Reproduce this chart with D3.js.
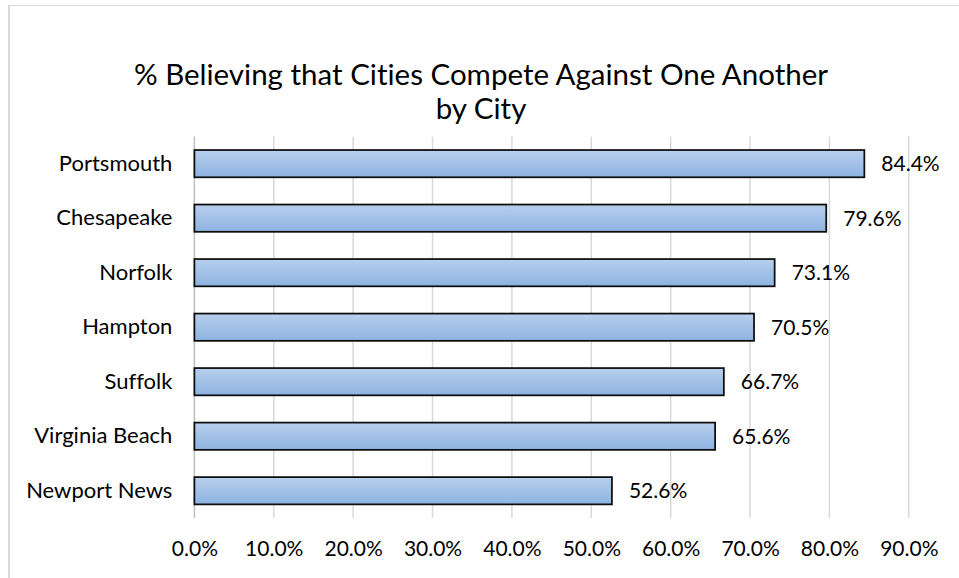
<!DOCTYPE html>
<html>
<head>
<meta charset="utf-8">
<script src="https://cdn.jsdelivr.net/npm/d3@7"></script>
<style>
  html, body { margin: 0; padding: 0; background: #fff; }
  svg { display: block; }
  text { font-family: Lato, "Open Sans", sans-serif; fill: #000; font-variant-ligatures: none; font-feature-settings: "liga" 0, "clig" 0; }
</style>
</head>
<body>
<svg id="chart" width="959" height="578"></svg>
<script>
const titleLines = ["% Believing that Cities Compete Against One Another", "by City"];
const cities = ["Portsmouth", "Chesapeake", "Norfolk", "Hampton", "Suffolk", "Virginia Beach", "Newport News"];
const values = [84.4, 79.6, 73.1, 70.5, 66.7, 65.6, 52.6];
const ticks = [0, 10, 20, 30, 40, 50, 60, 70, 80, 90];

const svg = d3.select("#chart");
const W = 959, H = 578;
const m = { left: 194.4, right: 959 - 908.8, top: 136.4, bottom: 578 - 518 };

// outer chart border (only top & left visible)
svg.append("line").attr("x1", 8).attr("x2", W).attr("y1", 5.5).attr("y2", 5.5)
  .attr("stroke", "#d9d9d9").attr("stroke-width", 1);
svg.append("line").attr("x1", 9).attr("x2", 9).attr("y1", 5).attr("y2", H)
  .attr("stroke", "#d9d9d9").attr("stroke-width", 2);

const x = d3.scaleLinear().domain([0, 90]).range([m.left, W - m.right]);
const y = d3.scaleBand().domain(cities).range([m.top, H - m.bottom]).paddingInner(0.5).paddingOuter(0.25);

// gradient
const defs = svg.append("defs");
const grad = defs.append("linearGradient").attr("id", "barGrad")
  .attr("x1", 0).attr("y1", 0).attr("x2", 0).attr("y2", 1);
grad.append("stop").attr("offset", "0%").attr("stop-color", "#b8cfec");
grad.append("stop").attr("offset", "100%").attr("stop-color", "#8db3e2");

// title
const title = svg.append("text").attr("text-anchor", "middle").style("font-size", "29.5px");
title.selectAll("tspan").data(titleLines).join("tspan")
  .attr("x", 481).attr("y", (d, i) => 85 + i * 34).text(d => d);

// gridlines
svg.append("g").selectAll("line").data(ticks.slice(1)).join("line")
  .attr("x1", d => x(d)).attr("x2", d => x(d))
  .attr("y1", m.top).attr("y2", H - m.bottom)
  .attr("stroke", "#d9d9d9").attr("stroke-width", 1.5);
// vertical axis line
svg.append("line").attr("x1", x(0)).attr("x2", x(0)).attr("y1", m.top).attr("y2", H - m.bottom)
  .attr("stroke", "#bfbfbf").attr("stroke-width", 1.5);

// x axis tick labels
const xAxis = d3.axisBottom(x).tickValues(ticks).tickSize(0).tickPadding(0)
  .tickFormat(d => d3.format(".1f")(d) + "%");
const gx = svg.append("g").attr("transform", `translate(0, ${H - m.bottom})`).call(xAxis);
gx.select(".domain").remove();
gx.selectAll("text").attr("dy", null).attr("y", 38).style("font-size", "21px")
  .style("font-family", "Lato, 'Open Sans', sans-serif").attr("fill", "#000");

// y axis labels
const yAxis = d3.axisLeft(y).tickSize(0).tickPadding(22);
const gy = svg.append("g").attr("transform", `translate(${m.left}, 0)`).call(yAxis);
gy.select(".domain").remove();
gy.selectAll("text").style("font-size", "22px")
  .style("font-family", "Lato, 'Open Sans', sans-serif").attr("fill", "#000");

// bars
svg.append("g").selectAll("rect").data(cities).join("rect")
  .attr("x", x(0)).attr("y", d => y(d))
  .attr("width", (d, i) => x(values[i]) - x(0))
  .attr("height", y.bandwidth())
  .attr("fill", "url(#barGrad)")
  .attr("stroke", "#0d0d0d").attr("stroke-width", 1.75);

// value labels
svg.append("g").selectAll("text").data(cities).join("text")
  .attr("x", (d, i) => x(values[i]) + 17)
  .attr("y", d => y(d) + y.bandwidth() / 2)
  .attr("dy", "0.35em")
  .style("font-size", "21px")
  .text((d, i) => d3.format(".1f")(values[i]) + "%");
</script>
</body>
</html>
